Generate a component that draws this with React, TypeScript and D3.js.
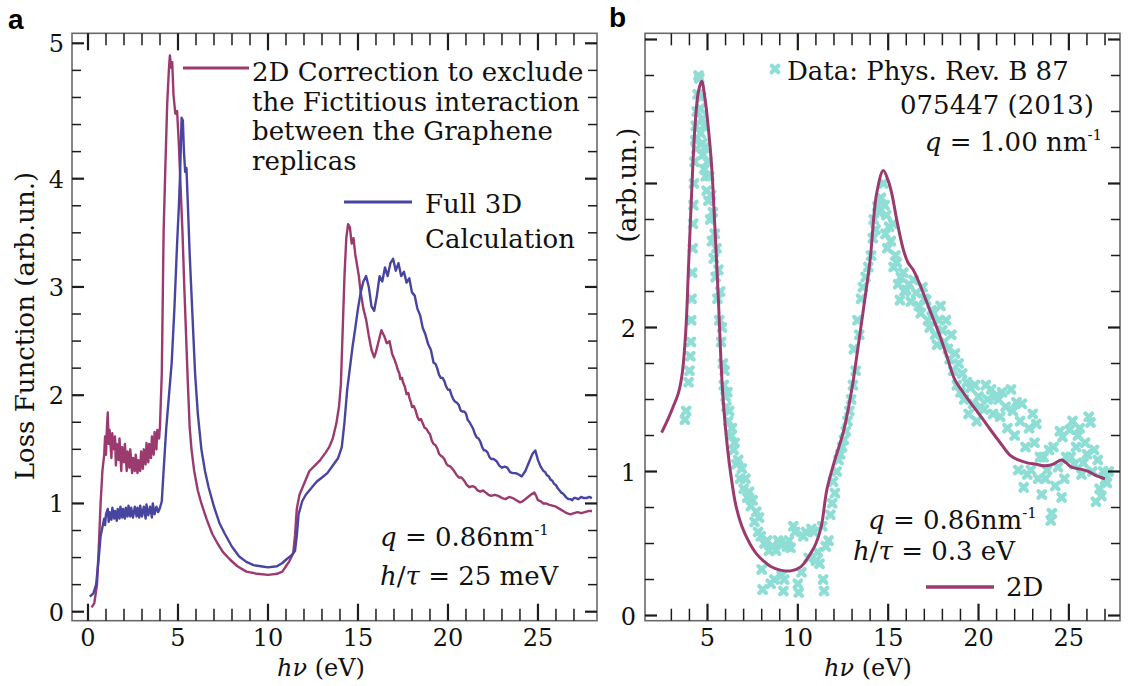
import React from 'react';
import * as d3 from 'd3';

// ---------- data ----------
const energyTicksA = [0, 5, 10, 15, 20, 25];
const lossTicksA = [0, 1, 2, 3, 4, 5];
const energyTicksB = [5, 10, 15, 20, 25];
const lossTicksB = [0, 1, 2, 3, 4];
const lossLabelsB = [0, 1, 2];

// Panel a: 2D-corrected loss function (E in eV, value)
const loss2DA: [number, number][] = [
  [0.2,0.04],[0.35,0.08],[0.5,0.25],[0.6,0.6],[0.7,1.0],[0.8,1.3],[0.9,1.45],[0.95,1.62],[1.0,1.45],[1.05,1.7],[1.1,1.84],[1.15,1.55],[1.2,1.68],[1.3,1.42],[1.35,1.65],[1.4,1.5],[1.5,1.62],[1.55,1.35],[1.6,1.55],[1.7,1.4],[1.75,1.6],[1.85,1.3],[1.9,1.52],[2.0,1.38],[2.05,1.55],[2.15,1.3],[2.2,1.48],[2.3,1.33],[2.35,1.5],[2.45,1.28],[2.5,1.42],[2.6,1.3],[2.65,1.45],[2.75,1.28],[2.8,1.4],[2.9,1.3],[2.95,1.48],[3.05,1.32],[3.1,1.5],[3.2,1.36],[3.25,1.56],[3.35,1.38],[3.4,1.55],[3.5,1.42],[3.55,1.62],[3.65,1.45],[3.7,1.66],[3.8,1.5],[3.85,1.68],[3.95,1.6],[4.0,1.72],[4.1,2.2],[4.2,3.5],[4.3,4.1],[4.4,4.55],[4.5,4.82],[4.55,4.91],[4.62,4.82],[4.68,4.86],[4.75,4.62],[4.85,4.48],[4.95,4.5],[5.05,4.25],[5.15,3.9],[5.25,3.5],[5.35,3.0],[5.45,2.55],[5.55,2.1],[5.65,1.7],[5.75,1.5],[5.9,1.3],[6.1,1.12],[6.3,1.0],[6.6,0.85],[6.9,0.72],[7.2,0.63],[7.5,0.55],[7.9,0.48],[8.3,0.42],[8.8,0.37],[9.4,0.35],[10.0,0.34],[10.5,0.35],[10.8,0.37],[11.0,0.42],[11.2,0.47],[11.4,0.54],[11.5,0.7],[11.6,0.95],[11.75,1.08],[12.0,1.18],[12.3,1.3],[12.6,1.35],[12.9,1.4],[13.2,1.47],[13.4,1.52],[13.6,1.6],[13.8,1.74],[13.95,1.9],[14.05,2.1],[14.15,2.6],[14.25,3.1],[14.35,3.45],[14.45,3.58],[14.55,3.55],[14.65,3.4],[14.75,3.45],[14.85,3.3],[14.95,3.2],[15.05,3.1],[15.15,2.95],[15.3,2.8],[15.45,2.7],[15.6,2.55],[15.75,2.42],[15.9,2.35],[16.0,2.4],[16.15,2.5],[16.3,2.6],[16.45,2.55],[16.6,2.48],[16.75,2.5],[16.9,2.38],[17.05,2.32],[17.15,2.27],[17.2,2.24],[17.3,2.2],[17.35,2.15],[17.45,2.16],[17.5,2.12],[17.6,2.08],[17.7,2.01],[17.8,2.02],[17.85,1.98],[17.95,1.93],[18.0,1.89],[18.1,1.9],[18.2,1.86],[18.3,1.8],[18.4,1.77],[18.5,1.78],[18.6,1.74],[18.7,1.7],[18.8,1.69],[18.9,1.66],[19.0,1.64],[19.1,1.58],[19.2,1.55],[19.3,1.54],[19.4,1.51],[19.5,1.46],[19.6,1.44],[19.7,1.43],[19.8,1.41],[19.9,1.37],[20.0,1.35],[20.15,1.34],[20.3,1.31],[20.45,1.27],[20.6,1.24],[20.75,1.24],[20.9,1.21],[21.05,1.17],[21.2,1.15],[21.35,1.16],[21.5,1.15],[21.65,1.12],[21.8,1.11],[21.95,1.12],[22.1,1.1],[22.25,1.08],[22.4,1.07],[22.6,1.08],[22.8,1.07],[23.0,1.05],[23.2,1.04],[23.4,1.06],[23.6,1.05],[23.8,1.03],[24.0,1.01],[24.15,1.02],[24.3,1.04],[24.45,1.06],[24.6,1.08],[24.8,1.1],[24.9,1.07],[25.0,1.03],[25.15,1.02],[25.3,1.0],[25.45,1.0],[25.6,0.99],[25.8,0.98],[26.0,0.97],[26.2,0.95],[26.4,0.93],[26.6,0.91],[26.8,0.9],[27.0,0.91],[27.2,0.92],[27.4,0.91],[27.6,0.92],[27.8,0.93],[28.0,0.93],
];

// Panel a: full 3D calculation
const loss3DA: [number, number][] = [
  [0.1,0.14],[0.3,0.17],[0.45,0.25],[0.6,0.5],[0.7,0.7],[0.8,0.78],[0.9,0.86],[0.95,0.8],[1.0,0.9],[1.1,0.95],[1.15,0.83],[1.2,0.92],[1.3,0.85],[1.35,0.96],[1.45,0.86],[1.5,0.93],[1.6,0.84],[1.65,0.95],[1.75,0.86],[1.8,0.97],[1.9,0.87],[1.95,0.95],[2.05,0.86],[2.1,0.96],[2.2,0.88],[2.25,0.98],[2.35,0.88],[2.4,0.96],[2.5,0.87],[2.6,0.97],[2.7,0.88],[2.75,0.96],[2.85,0.87],[2.9,0.98],[3.0,0.88],[3.1,0.97],[3.2,0.86],[3.25,0.99],[3.35,0.89],[3.45,0.97],[3.55,0.87],[3.6,1.0],[3.7,0.9],[3.8,0.97],[3.9,0.92],[4.0,0.96],[4.1,1.02],[4.2,1.3],[4.35,1.7],[4.5,2.0],[4.65,2.3],[4.8,2.8],[4.95,3.4],[5.05,3.75],[5.12,4.05],[5.2,4.45],[5.27,4.43],[5.33,4.2],[5.4,4.05],[5.47,4.08],[5.55,3.75],[5.65,3.3],[5.8,2.75],[5.95,2.2],[6.1,1.83],[6.3,1.5],[6.5,1.3],[6.7,1.15],[7.0,0.97],[7.3,0.82],[7.6,0.72],[8.0,0.6],[8.4,0.51],[8.8,0.46],[9.2,0.43],[9.6,0.42],[10.0,0.41],[10.5,0.42],[10.8,0.45],[11.0,0.48],[11.3,0.52],[11.5,0.56],[11.6,0.7],[11.7,0.9],[11.9,1.02],[12.1,1.08],[12.4,1.14],[12.7,1.2],[13.0,1.24],[13.3,1.28],[13.6,1.35],[13.9,1.42],[14.1,1.52],[14.25,1.75],[14.4,2.05],[14.55,2.25],[14.7,2.45],[14.85,2.62],[15.0,2.8],[15.15,2.95],[15.3,3.05],[15.45,3.1],[15.6,3.0],[15.75,2.82],[15.9,2.78],[16.05,2.92],[16.2,3.1],[16.35,3.05],[16.5,3.18],[16.65,3.1],[16.8,3.22],[16.95,3.26],[17.1,3.15],[17.25,3.22],[17.4,3.1],[17.55,3.14],[17.7,3.04],[17.85,3.08],[18.0,2.95],[18.15,2.92],[18.3,2.8],[18.45,2.74],[18.6,2.62],[18.75,2.56],[18.9,2.47],[19.05,2.42],[19.2,2.3],[19.3,2.29],[19.4,2.25],[19.5,2.19],[19.6,2.16],[19.7,2.16],[19.8,2.13],[19.9,2.08],[20.0,2.05],[20.1,2.05],[20.2,2.0],[20.3,1.96],[20.4,1.94],[20.5,1.93],[20.6,1.91],[20.7,1.86],[20.8,1.85],[20.9,1.85],[21.0,1.83],[21.1,1.77],[21.2,1.75],[21.3,1.72],[21.4,1.69],[21.5,1.64],[21.6,1.61],[21.7,1.6],[21.8,1.57],[21.9,1.52],[22.0,1.49],[22.1,1.49],[22.2,1.47],[22.3,1.43],[22.4,1.41],[22.55,1.41],[22.7,1.39],[22.85,1.35],[23.0,1.33],[23.15,1.34],[23.3,1.33],[23.45,1.29],[23.6,1.28],[23.75,1.28],[23.9,1.27],[24.1,1.25],[24.3,1.3],[24.5,1.38],[24.7,1.46],[24.85,1.49],[25.0,1.4],[25.15,1.34],[25.3,1.3],[25.4,1.29],[25.5,1.26],[25.6,1.25],[25.7,1.22],[25.8,1.21],[25.9,1.18],[26.0,1.17],[26.1,1.14],[26.2,1.12],[26.3,1.1],[26.4,1.09],[26.5,1.07],[26.6,1.05],[26.7,1.04],[26.8,1.04],[26.9,1.03],[27.0,1.05],[27.1,1.05],[27.25,1.04],[27.4,1.06],[27.55,1.05],[27.7,1.05],[27.85,1.06],[28.0,1.05],
];

// Panel b: 2D model curve
const loss2DB: [number, number][] = [
  [2.46,1.27],[2.8,1.36],[3.1,1.45],[3.4,1.55],[3.6,1.68],[3.8,1.98],[3.95,2.42],[4.12,2.93],[4.3,3.38],[4.5,3.64],[4.68,3.71],[4.85,3.6],[5.05,3.38],[5.23,3.12],[5.4,2.72],[5.6,2.2],[5.75,1.75],[5.9,1.44],[6.1,1.17],[6.3,0.97],[6.56,0.77],[6.9,0.62],[7.34,0.5],[7.7,0.43],[8.09,0.38],[8.5,0.34],[9.03,0.315],[9.6,0.31],[10.18,0.34],[10.7,0.43],[11.0,0.5],[11.3,0.62],[11.6,0.87],[12.0,1.06],[12.55,1.29],[13.0,1.58],[13.26,1.8],[13.6,2.1],[14.0,2.47],[14.36,2.93],[14.73,3.09],[15.0,3.02],[15.2,2.93],[15.47,2.75],[15.84,2.54],[16.1,2.45],[16.39,2.4],[16.65,2.33],[16.94,2.24],[17.4,2.09],[17.87,1.94],[18.3,1.78],[18.68,1.64],[19.2,1.54],[19.72,1.45],[20.2,1.37],[20.66,1.29],[21.2,1.2],[21.77,1.11],[22.2,1.08],[22.7,1.06],[23.2,1.05],[23.65,1.04],[24.1,1.05],[24.6,1.08],[24.85,1.06],[25.15,1.03],[25.7,1.015],[26.1,1.0],[26.45,0.975],[26.75,0.96],[27.0,0.95],
];

// Panel b: experimental data (Phys. Rev. B 87, 075447)
const expDataB: [number, number][] = [
  [3.75,1.36],[3.82,1.42],[3.95,1.62],[4.0,1.7],[4.05,1.8],[4.08,1.9],[4.1,2.05],[4.12,2.2],[4.15,2.38],[4.18,2.55],[4.2,2.72],[4.22,2.85],[4.25,3.0],[4.28,3.15],[4.32,3.3],[4.35,3.4],[4.38,3.24],[4.4,3.5],[4.45,3.62],[4.5,3.75],[4.55,3.73],[4.6,3.52],[4.62,3.35],[4.65,3.6],[4.7,3.45],[4.72,3.28],[4.75,3.2],[4.8,3.4],[4.82,3.1],[4.85,3.25],[4.9,3.05],[4.95,2.95],[5.0,3.15],[5.05,2.88],[5.1,3.05],[5.15,2.75],[5.2,2.92],[5.25,2.6],[5.3,2.8],[5.35,2.48],[5.4,2.65],[5.45,2.35],[5.5,2.55],[5.55,2.2],[5.6,2.4],[5.65,2.05],[5.7,2.25],[5.75,1.9],[5.8,2.0],[5.85,1.75],[5.9,1.6],[5.95,1.7],[6.0,1.52],[6.05,1.45],[6.1,1.55],[6.15,1.35],[6.2,1.42],[6.3,1.25],[6.35,1.3],[6.45,1.15],[6.5,1.2],[6.6,1.05],[6.7,1.08],[6.8,0.95],[6.9,1.02],[7.0,0.88],[7.1,0.95],[7.2,0.82],[7.3,0.86],[7.4,0.76],[7.5,0.8],[7.6,0.65],[7.7,0.72],[7.8,0.58],[7.85,0.68],[7.95,0.55],[8.0,0.32],[8.05,0.18],[8.15,0.5],[8.3,0.52],[8.4,0.45],[8.5,0.22],[8.6,0.48],[8.7,0.25],[8.8,0.45],[8.9,0.52],[9.0,0.5],[9.1,0.28],[9.2,0.17],[9.25,0.25],[9.4,0.48],[9.5,0.52],[9.6,0.47],[9.75,0.62],[9.85,0.58],[10.0,0.22],[10.05,0.16],[10.2,0.3],[10.3,0.55],[10.45,0.58],[10.6,0.4],[10.75,0.6],[10.9,0.58],[11.0,0.38],[11.1,0.44],[11.2,0.36],[11.35,0.62],[11.4,0.25],[11.45,0.17],[11.55,0.48],[11.7,0.52],[11.8,0.7],[11.9,0.78],[11.95,0.93],[12.05,0.85],[12.15,1.0],[12.25,1.08],[12.35,1.12],[12.45,1.17],[12.55,1.22],[12.65,1.28],[12.75,1.35],[12.85,1.42],[12.95,1.5],[13.05,1.6],[13.1,1.85],[13.2,1.7],[13.3,2.05],[13.4,1.95],[13.5,2.2],[13.6,2.28],[13.75,2.35],[13.9,2.42],[14.05,2.5],[14.15,2.62],[14.2,2.75],[14.3,2.68],[14.4,2.84],[14.5,2.8],[14.6,2.9],[14.73,3.0],[14.8,2.85],[14.85,2.65],[14.9,2.78],[14.95,2.55],[15.05,2.7],[15.15,2.6],[15.27,2.72],[15.3,2.42],[15.4,2.5],[15.47,2.45],[15.55,2.3],[15.65,2.19],[15.7,2.35],[15.84,2.38],[15.9,2.25],[16.0,2.26],[16.15,2.3],[16.25,2.18],[16.4,2.33],[16.55,2.24],[16.7,2.15],[16.8,2.1],[16.9,2.28],[17.0,2.2],[17.1,2.19],[17.2,2.05],[17.3,2.0],[17.4,2.12],[17.5,2.1],[17.6,1.95],[17.7,1.88],[17.8,2.05],[17.9,2.15],[18.0,1.98],[18.1,1.9],[18.2,2.05],[18.3,1.85],[18.4,1.78],[18.5,1.95],[18.6,1.7],[18.7,1.82],[18.8,1.6],[18.9,1.75],[19.0,1.55],[19.1,1.68],[19.2,1.5],[19.35,1.62],[19.45,1.4],[19.55,1.58],[19.7,1.47],[19.8,1.6],[19.9,1.35],[20.0,1.52],[20.1,1.45],[20.3,1.43],[20.4,1.6],[20.5,1.5],[20.7,1.57],[20.8,1.4],[20.9,1.52],[21.1,1.5],[21.2,1.38],[21.3,1.55],[21.5,1.45],[21.6,1.3],[21.8,1.57],[21.9,1.42],[22.0,1.25],[22.1,1.48],[22.2,1.01],[22.3,1.35],[22.4,1.47],[22.5,0.89],[22.6,1.17],[22.7,0.98],[22.8,1.3],[22.9,1.01],[23.0,1.4],[23.1,1.2],[23.2,1.33],[23.3,0.95],[23.4,1.1],[23.5,0.84],[23.6,1.1],[23.7,0.95],[23.8,1.01],[23.9,1.15],[24.0,0.66],[24.06,0.71],[24.15,1.17],[24.25,0.9],[24.4,1.03],[24.5,1.28],[24.6,0.82],[24.65,1.24],[24.75,0.95],[24.85,1.1],[25.05,1.29],[25.1,1.1],[25.2,1.35],[25.3,1.05],[25.4,1.17],[25.5,1.25],[25.6,1.3],[25.7,0.98],[25.8,1.06],[25.9,1.2],[26.0,1.12],[26.1,1.38],[26.2,1.34],[26.3,1.0],[26.4,1.15],[26.5,0.79],[26.6,1.08],[26.7,0.88],[26.8,0.83],[26.9,1.0],[27.0,0.94],[27.1,0.92],[27.2,1.0],
];

// ---------- styles ----------
const MAGENTA = '#9b3a6e';
const BLUE = '#4845a0';
const CYAN = '#8fded5';
const FRAME = '#6a6a6a';
const TICK = '#1c1c1c';
const SERIF = '"DejaVu Serif", serif';
const TICK_FS = 24;
const TEXT_FS = 26;
const TITLE_FS = 24;

type Sc = d3.ScaleLinear<number, number>;

function Ticks({ x, y, xMajor, xMinor, yMajor, yMinor, left, right, top, bottom }: {
  x: Sc; y: Sc; xMajor: number[]; xMinor: number[]; yMajor: number[]; yMinor: number[];
  left: number; right: number; top: number; bottom: number;
}) {
  const els: React.ReactNode[] = [];
  xMajor.forEach((v, i) => {
    const px = x(v);
    els.push(<line key={'xb' + i} x1={px} x2={px} y1={bottom} y2={bottom - 17} stroke={TICK} strokeWidth={2.2} />);
    els.push(<line key={'xt' + i} x1={px} x2={px} y1={top} y2={top + 17} stroke={TICK} strokeWidth={2.2} />);
  });
  xMinor.forEach((v, i) => {
    const px = x(v);
    els.push(<line key={'xbm' + i} x1={px} x2={px} y1={bottom} y2={bottom - 12} stroke={TICK} strokeWidth={1.5} />);
    els.push(<line key={'xtm' + i} x1={px} x2={px} y1={top} y2={top + 12} stroke={TICK} strokeWidth={1.5} />);
  });
  yMajor.forEach((v, i) => {
    const py = y(v);
    els.push(<line key={'yl' + i} x1={left} x2={left + 12} y1={py} y2={py} stroke={TICK} strokeWidth={2.2} />);
    els.push(<line key={'yr' + i} x1={right} x2={right - 12} y1={py} y2={py} stroke={TICK} strokeWidth={2.2} />);
  });
  yMinor.forEach((v, i) => {
    const py = y(v);
    els.push(<line key={'ylm' + i} x1={left} x2={left + 9} y1={py} y2={py} stroke={TICK} strokeWidth={1.5} />);
    els.push(<line key={'yrm' + i} x1={right} x2={right - 9} y1={py} y2={py} stroke={TICK} strokeWidth={1.5} />);
  });
  return <g>{els}</g>;
}

function Cross({ cx, cy }: { cx: number; cy: number }) {
  const a = 3.3;
  return (
    <path
      d={`M${cx - a},${cy - a}L${cx + a},${cy + a}M${cx - a},${cy + a}L${cx + a},${cy - a}`}
      stroke={CYAN} strokeWidth={4.2} strokeLinecap="round" fill="none"
    />
  );
}

function Sup({ children }: { children: string }) {
  return <tspan dy={-11} fontSize={15}>{children}</tspan>;
}

function PanelA() {
  const L = 72, R = 597, T = 33.3, B = 620.7;
  const x = d3.scaleLinear().domain([-0.889, 28.28]).range([L, R]);
  const y = d3.scaleLinear().domain([0, 4, 5]).range([611.7, 178.7, 43.3]);
  const xMinor = d3.range(1, 28).filter((v) => v % 5 !== 0);
  const yMinor = [...d3.range(0.25, 4, 0.25).filter((v) => v % 1 !== 0), 4.2, 4.4, 4.6, 4.8];
  const line = d3.line<[number, number]>().x((d) => x(d[0])).y((d) => y(d[1]));
  return (
    <g>
      <text x={8} y={29} fontFamily='"Liberation Sans", Arial, sans-serif' fontWeight="bold" fontSize={28}>a</text>
      <path d={line(loss2DA) || ''} fill="none" stroke={MAGENTA} strokeWidth={2.4} strokeLinejoin="round" />
      <path d={line(loss3DA) || ''} fill="none" stroke={BLUE} strokeWidth={2.4} strokeLinejoin="round" />
      <rect x={L} y={T} width={R - L} height={B - T} fill="none" stroke={FRAME} strokeWidth={1.6} />
      <Ticks x={x} y={y} xMajor={energyTicksA} xMinor={xMinor} yMajor={lossTicksA} yMinor={yMinor}
        left={L} right={R} top={T} bottom={B} />
      <g fontFamily={SERIF} fontSize={TICK_FS} fill="#111">
        {lossTicksA.map((v) => (
          <text key={'yl' + v} x={64} y={y(v) + 9} textAnchor="end">{v}</text>
        ))}
        {energyTicksA.map((v) => (
          <text key={'xl' + v} x={x(v)} y={646} textAnchor="middle">{v}</text>
        ))}
      </g>
      <g fontFamily={SERIF} fontSize={TEXT_FS} fill="#111">
        <text x={321} y={676} textAnchor="middle" fontSize={TITLE_FS}><tspan fontStyle="italic">hν</tspan> (eV)</text>
        <text transform="translate(34,326) rotate(-90)" textAnchor="middle">Loss Function (arb.un.)</text>
        <line x1={183} x2={249} y1={68} y2={68} stroke={MAGENTA} strokeWidth={3.2} />
        <text x={252} y={81}>2D Correction to exclude</text>
        <text x={252} y={111}>the Fictitious interaction</text>
        <text x={252} y={140}>between the Graphene</text>
        <text x={252} y={170}>replicas</text>
        <line x1={344} x2={412} y1={202} y2={202} stroke={BLUE} strokeWidth={3.2} />
        <text x={425} y={213}>Full 3D</text>
        <text x={425} y={248}>Calculation</text>
        <text x={380} y={546}><tspan fontStyle="italic">q</tspan> = 0.86nm<Sup>-1</Sup></text>
        <text x={380} y={585}><tspan fontStyle="italic">h</tspan>/<tspan fontStyle="italic">τ</tspan> = 25 meV</text>
      </g>
    </g>
  );
}

function PanelB() {
  const L = 645, R = 1120, T = 33.3, B = 620.7;
  const x = d3.scaleLinear().domain([1.541, 27.83]).range([L, R]);
  const y = d3.scaleLinear().domain([-0.036, 4.043]).range([B, T]);
  const xMinor = d3.range(3, 28).filter((v) => v % 5 !== 0);
  const yMinor = d3.range(0.25, 4, 0.25).filter((v) => v % 1 !== 0);
  const line = d3.line<[number, number]>().x((d) => x(d[0])).y((d) => y(d[1])).curve(d3.curveCatmullRom.alpha(0.5));
  return (
    <g>
      <text x={609} y={27} fontFamily='"Liberation Sans", Arial, sans-serif' fontWeight="bold" fontSize={28}>b</text>
      <g>
        {expDataB.map((d, i) => (
          <Cross key={i} cx={x(d[0])} cy={y(d[1])} />
        ))}
      </g>
      <path d={line(loss2DB) || ''} fill="none" stroke={MAGENTA} strokeWidth={3} strokeLinejoin="round" />
      <rect x={L} y={T} width={R - L} height={B - T} fill="none" stroke={FRAME} strokeWidth={1.6} />
      <Ticks x={x} y={y} xMajor={energyTicksB} xMinor={xMinor} yMajor={lossTicksB} yMinor={yMinor}
        left={L} right={R} top={T} bottom={B} />
      <g fontFamily={SERIF} fontSize={TICK_FS} fill="#111">
        {lossLabelsB.map((v) => (
          <text key={'yl' + v} x={636} y={y(v) + 9} textAnchor="end">{v}</text>
        ))}
        {energyTicksB.map((v) => (
          <text key={'xl' + v} x={x(v)} y={646} textAnchor="middle">{v}</text>
        ))}
      </g>
      <g fontFamily={SERIF} fontSize={TEXT_FS} fill="#111">
        <text x={868} y={676} textAnchor="middle" fontSize={TITLE_FS}><tspan fontStyle="italic">hν</tspan> (eV)</text>
        <text transform="translate(636,185) rotate(-90)" textAnchor="middle">(arb.un.)</text>
        <Cross cx={775} cy={69} />
        <text x={787} y={80}>Data: Phys. Rev. B 87</text>
        <text x={1094} y={114} textAnchor="end">075447 (2013)</text>
        <text x={1102} y={151} textAnchor="end"><tspan fontStyle="italic">q</tspan> = 1.00 nm<Sup>-1</Sup></text>
        <text x={868} y={529}><tspan fontStyle="italic">q</tspan> = 0.86nm<Sup>-1</Sup></text>
        <text x={853} y={560}><tspan fontStyle="italic">h</tspan>/<tspan fontStyle="italic">τ</tspan> = 0.3 eV</text>
        <line x1={926} x2={994} y1={587} y2={587} stroke={MAGENTA} strokeWidth={3.5} />
        <text x={1006} y={596}>2D</text>
      </g>
    </g>
  );
}

export default function App() {
  return (
    <svg width={1132} height={686} viewBox="0 0 1132 686"
      style={{ position: 'absolute', left: 0, top: 0, background: '#fff' }}>
      <rect x={0} y={0} width={1132} height={686} fill="#fff" />
      <PanelA />
      <PanelB />
    </svg>
  );
}
